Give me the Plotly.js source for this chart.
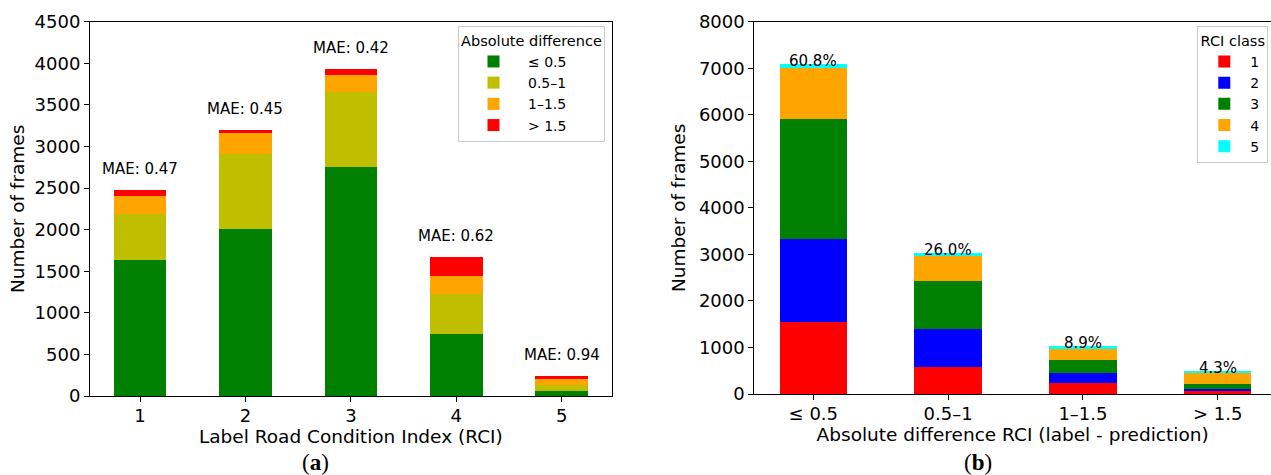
<!DOCTYPE html>
<html>
<head>
<meta charset="utf-8">
<script src="https://cdn.plot.ly/plotly-3.0.1.min.js"></script>
<style>html,body{margin:0;padding:0;background:#fff;}#chart{width:1271px;height:475px;}</style>
</head>
<body>
<div id="chart"></div>
<script>
// ---- Panel (a): frames per label RCI, split by absolute difference ----
const rciClasses = [1, 2, 3, 4, 5];
const diffLe05   = [1640, 2005, 2750, 745, 65];
const diff05to1  = [550, 905, 905, 480, 68];
const diff1to15  = [220, 250, 200, 220, 68];
const diffGt15   = [70, 35, 80, 225, 36];
const maeLabels  = ['MAE: 0.47', 'MAE: 0.45', 'MAE: 0.42', 'MAE: 0.62', 'MAE: 0.94'];
const diffSeriesNames = ['≤ 0.5', '0.5–1', '1–1.5', '> 1.5'];

// ---- Panel (b): frames per absolute difference, split by RCI class ----
const diffCategories = ['≤ 0.5', '0.5–1', '1–1.5', '> 1.5'];
const class1 = [1555, 570, 230, 70];
const class2 = [1775, 825, 215, 35];
const class3 = [2570, 1025, 285, 120];
const class4 = [1105, 545, 230, 230];
const class5 = [80, 60, 65, 45];
const pctLabels = ['60.8%', '26.0%', '8.9%', '4.3%'];
const classNames = ['1', '2', '3', '4', '5'];

const FONT = 'DejaVu Sans, sans-serif';
const colorsA = ['#008000', '#bfbf00', '#ffa500', '#ff0000'];
const colorsB = ['#ff0000', '#0000ff', '#008000', '#ffa500', '#00ffff'];

const seriesA = [diffLe05, diff05to1, diff1to15, diffGt15];
const seriesB = [class1, class2, class3, class4, class5];

const traces = [];
seriesA.forEach((vals, i) => {
  traces.push({
    type: 'bar', x: rciClasses, y: vals, name: diffSeriesNames[i],
    marker: {color: colorsA[i], line: {width: 0}}, width: 0.5,
    xaxis: 'x', yaxis: 'y', legend: 'legend', hoverinfo: 'y'
  });
});
seriesB.forEach((vals, i) => {
  traces.push({
    type: 'bar', x: diffCategories, y: vals, name: classNames[i],
    marker: {color: colorsB[i], line: {width: 0}}, width: 0.5,
    xaxis: 'x2', yaxis: 'y2', legend: 'legend2', hoverinfo: 'y'
  });
});

const totalsA = rciClasses.map((_, j) => seriesA.reduce((s, arr) => s + arr[j], 0));
const totalsB = diffCategories.map((_, j) => seriesB.reduce((s, arr) => s + arr[j], 0));

const annotations = [];
rciClasses.forEach((c, j) => {
  annotations.push({x: c, y: totalsA[j], xref: 'x', yref: 'y', text: maeLabels[j],
    showarrow: false, yanchor: 'middle', yshift: 21, font: {family: FONT, size: 15, color: '#000'}});
});
diffCategories.forEach((c, j) => {
  annotations.push({x: c, y: totalsB[j], xref: 'x2', yref: 'y2', text: pctLabels[j],
    showarrow: false, yanchor: 'bottom', yshift: -8, font: {family: FONT, size: 15, color: '#000'}});
});
annotations.push({x: 315 / 1271, y: 13 / 475, xref: 'paper', yref: 'paper', text: '(<b>a</b>)',
  showarrow: false, yanchor: 'middle', xanchor: 'center', font: {family: 'Liberation Serif, serif', size: 23, color: '#000'}});
annotations.push({x: 978 / 1271, y: 13 / 475, xref: 'paper', yref: 'paper', text: '(<b>b</b>)',
  showarrow: false, yanchor: 'middle', xanchor: 'center', font: {family: 'Liberation Serif, serif', size: 23, color: '#000'}});

const axisCommon = {
  showgrid: false, zeroline: false, showline: true, linecolor: '#000', linewidth: 1,
  ticks: 'outside', ticklen: 5, tickwidth: 1, tickcolor: '#000',
  tickfont: {family: FONT, size: 18, color: '#000'}, automargin: false
};
const titleFont = {family: FONT, size: 18.5, color: '#000'};

const layout = {
  width: 1271, height: 475,
  margin: {l: 0, r: 0, t: 0, b: 0},
  paper_bgcolor: '#fff', plot_bgcolor: '#fff',
  barmode: 'stack', bargap: 0,
  font: {family: FONT, color: '#000'},
  showlegend: true,
  xaxis: Object.assign({}, axisCommon, {
    domain: [90 / 1271, 611.7 / 1271], range: [0.525, 5.475],
    tickmode: 'array', tickvals: rciClasses, ticktext: rciClasses.map(String),
    mirror: true, anchor: 'y', ticklabelstandoff: -2,
    title: {text: 'Label Road Condition Index (RCI)', font: titleFont, standoff: 0}
  }),
  yaxis: Object.assign({}, axisCommon, {
    domain: [79 / 475, 453.3 / 475], range: [0, 4500], dtick: 500, tick0: 0,
    mirror: true, anchor: 'x',
    title: {text: 'Number of frames', font: titleFont, standoff: 5}
  }),
  xaxis2: Object.assign({}, axisCommon, {
    domain: [754.3 / 1271, 1], range: [-0.4377, 3.3953], type: 'category',
    categoryorder: 'array', categoryarray: diffCategories,
    mirror: true, anchor: 'y2', ticklabelstandoff: -2,
    title: {text: 'Absolute difference RCI (label - prediction)', font: titleFont, standoff: 0}
  }),
  yaxis2: Object.assign({}, axisCommon, {
    domain: [81 / 475, 453.3 / 475], range: [0, 8000], dtick: 1000, tick0: 0,
    mirror: false, anchor: 'x2',
    title: {text: 'Number of frames', font: titleFont, standoff: 8}
  }),
  legend: {
    x: 605 / 1271, xanchor: 'right', y: (475 - 26) / 475, yanchor: 'top',
    bgcolor: 'rgba(255,255,255,0.85)', bordercolor: '#cccccc', borderwidth: 1,
    traceorder: 'normal', itemwidth: 59, font: {family: FONT, size: 14, color: '#000'},
    title: {text: 'Absolute difference', side: 'top center', font: {family: FONT, size: 14.5, color: '#000'}}
  },
  legend2: {
    x: 1268.3 / 1271, xanchor: 'right', y: (475 - 26) / 475, yanchor: 'top',
    bgcolor: 'rgba(255,255,255,0.85)', bordercolor: '#cccccc', borderwidth: 1,
    traceorder: 'normal', itemwidth: 42, font: {family: FONT, size: 14, color: '#000'},
    title: {text: 'RCI class', side: 'top center', font: {family: FONT, size: 14.5, color: '#000'}}
  },
  annotations: annotations
};

Plotly.newPlot('chart', traces, layout, {displayModeBar: false, staticPlot: true});
</script>
</body>
</html>
